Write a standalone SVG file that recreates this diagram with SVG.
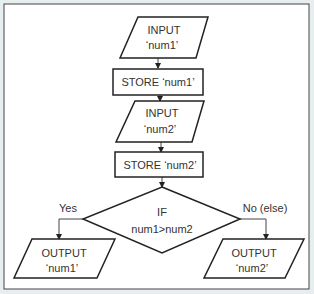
<svg xmlns="http://www.w3.org/2000/svg" width="314" height="294" viewBox="0 0 314 294">
<defs>
<marker id="ah" markerWidth="6" markerHeight="6" refX="5" refY="3" orient="auto" markerUnits="userSpaceOnUse">
<path d="M0,0 L6,3 L0,6 z" fill="#222"/>
</marker>
<style>
.shape{fill:#fff;stroke:#222;stroke-width:1.5}
.line{fill:none;stroke:#444;stroke-width:1}
text{font-family:"Liberation Sans",Arial,sans-serif;font-size:11px;fill:#333;text-anchor:middle}
</style>
</defs>
<rect x="0" y="0" width="314" height="294" fill="#e7eef0"/>
<rect x="4" y="4" width="305" height="285" fill="#fff" stroke="#444" stroke-width="1"/>
<g id="connectors">
<line class="line" x1="158" y1="58" x2="158" y2="68" marker-end="url(#ah)"/>
<line class="line" x1="160" y1="95" x2="160" y2="101" marker-end="url(#ah)"/>
<line class="line" x1="161" y1="142" x2="161" y2="152" marker-end="url(#ah)"/>
<line class="line" x1="162" y1="177" x2="162" y2="187" marker-end="url(#ah)"/>
<polyline class="line" points="83,219 59,219 59,239" marker-end="url(#ah)"/>
<polyline class="line" points="240,219 266,219 266,239" marker-end="url(#ah)"/>
</g>
<g id="input1">
<polygon class="shape" points="138,17 208,17 196,58 120,58"/>
<text x="164" y="34">INPUT</text>
<text x="162" y="49">‘num1’</text>
</g>
<g id="store1">
<rect class="shape" x="113" y="69" width="90" height="26"/>
<text x="158" y="86">STORE ‘num1’</text>
</g>
<g id="input2">
<polygon class="shape" points="135,101 204,101 192,142 116,142"/>
<text x="162" y="117">INPUT</text>
<text x="160" y="133">‘num2’</text>
</g>
<g id="store2">
<rect class="shape" x="115" y="152" width="88" height="25"/>
<text x="160" y="169">STORE ‘num2’</text>
</g>
<g id="decision">
<polygon class="shape" points="162,187 240,219 162,253 83,219"/>
<text x="162" y="216">IF</text>
<text x="162" y="233">num1&gt;num2</text>
</g>
<text x="68" y="212">Yes</text>
<text x="265" y="212">No (else)</text>
<g id="output1">
<polygon class="shape" points="32,239 115,239 97,278 14,278"/>
<text x="64" y="257">OUTPUT</text>
<text x="62" y="272">‘num1’</text>
</g>
<g id="output2">
<polygon class="shape" points="223,239 304,239 285,278 204,278"/>
<text x="254" y="257">OUTPUT</text>
<text x="252" y="272">‘num2’</text>
</g>
</svg>
